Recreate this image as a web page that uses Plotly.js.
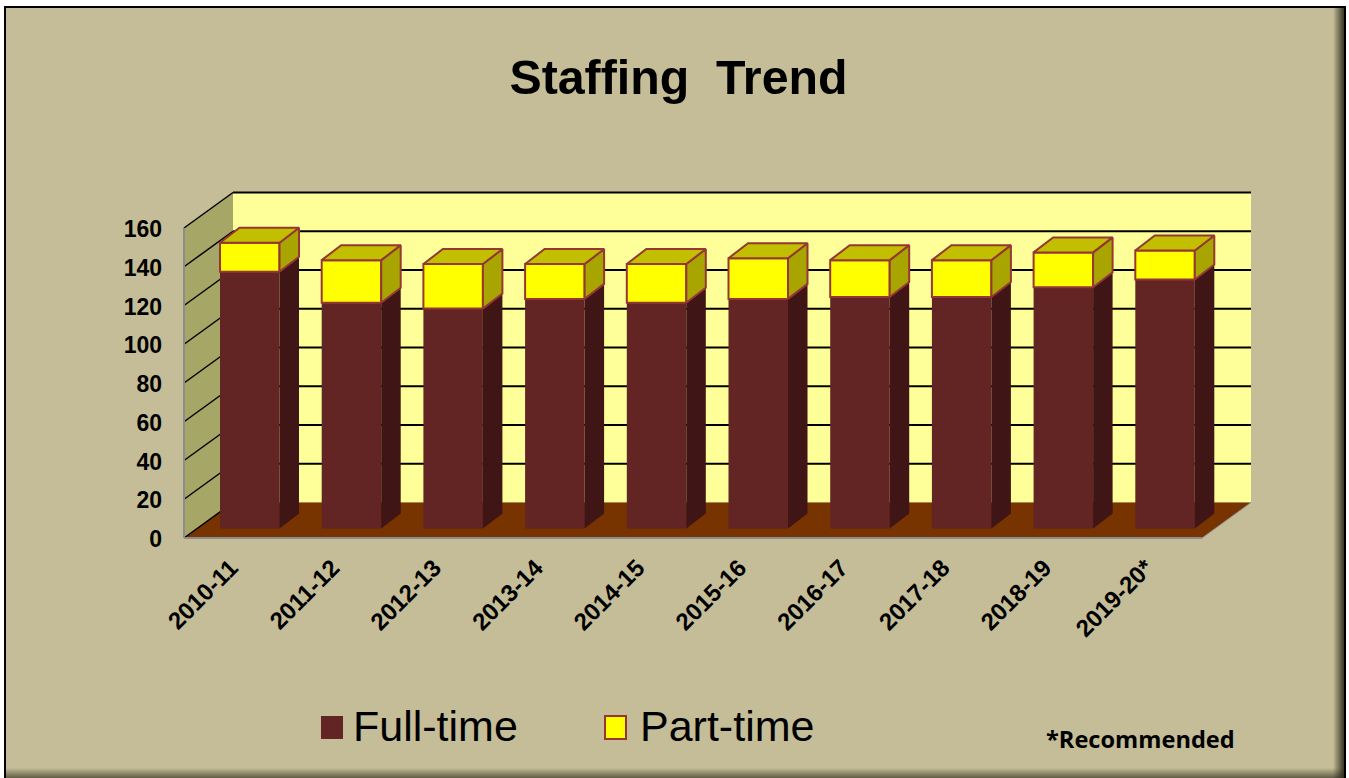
<!DOCTYPE html>
<html>
<head>
<meta charset="utf-8">
<script src="https://cdn.plot.ly/plotly-3.0.1.min.js"></script>
<style>
html,body{margin:0;padding:0;background:#fff;overflow:hidden}
#frame{position:absolute;left:4px;top:6px;width:1342px;height:772px;box-sizing:border-box;
border-left:2px solid #000;border-top:2px solid #000;border-right:2px solid #000;
background:
 linear-gradient(to right,rgba(40,40,25,0) 0,rgba(40,40,25,0) calc(100% - 11px),rgba(40,40,25,.9) 100%),
 linear-gradient(to bottom,rgba(60,60,40,0) 0,rgba(60,60,40,0) calc(100% - 10px),rgba(60,60,40,.75) 100%),
 #C4BD97}
#chart{position:absolute;left:0;top:0;width:1349px;height:778px}
</style>
</head>
<body>
<div id="frame"></div>
<div id="chart"></div>
<script>
const categories = ['2010-11','2011-12','2012-13','2013-14','2014-15','2015-16','2016-17','2017-18','2018-19','2019-20*'];
const fullTime = [132.5,116.5,113.5,118.5,116.5,118.5,119.5,119.5,124.5,128.5];
const partTime = [15,22,23,18,20,21,19,19,18,15];
const yTicks = [0,20,40,60,80,100,120,140,160];
const seriesNames = ['Full-time','Part-time'];

// scale of the drawing
const PX_X = 101.7, PX_Y = 1.9375, PAD = 5;
const L = 184, R = 1251, T = 192, B = 538;
const WALL_DX = 49/PX_X, WALL_DY = 35.5/PX_Y;      // floor / wall depth
const BAR_SX = 14.9/PX_X, BAR_SY = 9.5/PX_Y;       // bar inset from the front plane
const BAR_DX = 19.5/PX_X, BAR_DY = 15/PX_Y;        // bar depth
const BAR_W = 59.5/PX_X;
const LABEL_SHIFT = 4/PX_X, Y_LABEL_NUDGE = 1/PX_Y;
const xMin = -0.5, xFrontMax = 9.5, yMaxTick = 160;
const xBackMax = xMin + (R-L)/PX_X;

const C = {bg:'#C4BD97', back:'#FFFF99', wall:'#A6A666', floor:'#773300', grid:'#000',
  axis:'#8C8C8C', ft:'#632523', ftSide:'#3F1515', pt:'#FFFF00', ptSide:'#A8A500', ptTop:'#C2BE00', edge:'#953735'};

const xi = categories.map((_,i)=>i);
const face = fn => { const xs=[],ys=[]; xi.forEach(i=>{ fn(i).forEach(p=>{xs.push(p[0]);ys.push(p[1]);}); xs.push(null);ys.push(null);}); return {x:xs,y:ys}; };
const xl = i => i + BAR_SX - BAR_W/2, xr = i => i + BAR_SX + BAR_W/2;
const sideFull = face(i=>{const a=BAR_SY,b=BAR_SY+fullTime[i];return [[xr(i),a],[xr(i)+BAR_DX,a+BAR_DY],[xr(i)+BAR_DX,b+BAR_DY],[xr(i),b],[xr(i),a]];});
const sidePart = face(i=>{const a=BAR_SY+fullTime[i],b=a+partTime[i];return [[xr(i),a],[xr(i)+BAR_DX,a+BAR_DY],[xr(i)+BAR_DX,b+BAR_DY],[xr(i),b],[xr(i),a]];});
const topPart = face(i=>{const b=BAR_SY+fullTime[i]+partTime[i];return [[xl(i),b],[xr(i),b],[xr(i)+BAR_DX,b+BAR_DY],[xl(i)+BAR_DX,b+BAR_DY],[xl(i),b]];});

const traces = [
 {type:'bar',name:seriesNames[0],x:xi,y:fullTime,base:fullTime.map(()=>BAR_SY),width:BAR_W,offset:BAR_SX-BAR_W/2,
  marker:{color:C.ft,line:{color:C.ft,width:0}},showlegend:false,hoverinfo:'skip'},
 {type:'bar',name:seriesNames[1],x:xi,y:partTime,base:fullTime.map(v=>v+BAR_SY),width:BAR_W,offset:BAR_SX-BAR_W/2,
  marker:{color:C.pt,line:{color:C.edge,width:2}},showlegend:false,hoverinfo:'skip'},
 {type:'scatter',mode:'lines',x:sideFull.x,y:sideFull.y,fill:'toself',fillcolor:C.ftSide,line:{width:0,color:C.ftSide},showlegend:false,hoverinfo:'skip'},
 {type:'scatter',mode:'lines',x:sidePart.x,y:sidePart.y,fill:'toself',fillcolor:C.ptSide,line:{width:2,color:C.edge},showlegend:false,hoverinfo:'skip'},
 {type:'scatter',mode:'lines',x:topPart.x,y:topPart.y,fill:'toself',fillcolor:C.ptTop,line:{width:2,color:C.edge},showlegend:false,hoverinfo:'skip'}
];

const poly = (pts,fill,line) => ({type:'path',xref:'x',yref:'y',layer:'below',
  path:'M'+pts.map(p=>p[0]+','+p[1]).join(' L')+' Z',fillcolor:fill,line:line||{width:0}});
const seg = (a,b,color,w) => ({type:'line',xref:'x',yref:'y',layer:'below',x0:a[0],y0:a[1],x1:b[0],y1:b[1],line:{color:color,width:w}});

const shapes = [];
shapes.push(poly([[xMin+WALL_DX,WALL_DY],[xBackMax,WALL_DY],[xBackMax,yMaxTick+WALL_DY],[xMin+WALL_DX,yMaxTick+WALL_DY]],C.back));
shapes.push(poly([[xMin,0],[xMin+WALL_DX,WALL_DY],[xMin+WALL_DX,yMaxTick+WALL_DY],[xMin,yMaxTick]],C.wall));
yTicks.slice(1).forEach(t=>shapes.push(seg([xMin+WALL_DX,t+WALL_DY],[xBackMax,t+WALL_DY],C.grid,2)));
shapes.push(poly([[xMin,0],[xBackMax-WALL_DX,0],[xBackMax,WALL_DY],[xMin+WALL_DX,WALL_DY]],C.floor));
yTicks.forEach(t=>shapes.push(seg([xMin,t],[xMin+WALL_DX,t+WALL_DY],C.grid,1.5)));
shapes.push(seg([xMin,0],[xMin,yMaxTick],C.axis,2));
shapes.push(seg([xMin,0],[xBackMax-WALL_DX,0],C.axis,2));
shapes.push(seg([xBackMax-WALL_DX,0],[xBackMax,WALL_DY],C.axis,1));

// legend keys
const W = 1349, H = 778;
const px = x => (x-(L-PAD))/(R+PAD-(L-PAD));
const py = y => ((B+PAD)-y)/((B+PAD)-(T-PAD));
const key = (x0,x1,y0,y1,fill,line) => ({type:'rect',xref:'paper',yref:'paper',layer:'above',
  x0:px(x0),x1:px(x1),y0:py(y0),y1:py(y1),fillcolor:fill,line:line});
shapes.push(key(321,343,716,739,C.ft,{width:0}));
shapes.push(key(605,626,716,739,C.pt,{color:C.edge,width:2}));

const label = (text,x,y,size,family,bold,anchor) => ({text:bold?'<b>'+text+'</b>':text,xref:'paper',yref:'paper',x:px(x),y:py(y),
  xanchor:anchor||'left',yanchor:'middle',showarrow:false,font:{family:family,size:size,color:'#000'}});

const layout = {
  width:W,height:H,autosize:false,
  paper_bgcolor:'rgba(0,0,0,0)',plot_bgcolor:'rgba(0,0,0,0)',
  margin:{l:L-PAD,r:W-R-PAD,t:T-PAD,b:H-B-PAD,pad:0},
  barmode:'overlay',showlegend:false,
  title:{text:'<b>Staffing\u00A0 Trend</b>',x:678.5/W,xanchor:'center',y:1-77/H,yanchor:'middle',
    font:{family:'Liberation Sans',size:48.3,color:'#000'}},
  xaxis:{type:'linear',range:[xMin-PAD/PX_X,xMin+(R+PAD-L)/PX_X],tickmode:'array',tickvals:xi.map(i=>i-LABEL_SHIFT),ticktext:categories,
    tickangle:-45,showgrid:false,zeroline:false,showline:false,ticks:'',ticklabelstandoff:5,
    tickfont:{family:'Liberation Sans',size:24,color:'#000',weight:'bold'}},
  yaxis:{type:'linear',range:[-PAD/PX_Y,(B-T+PAD)/PX_Y],tickmode:'array',tickvals:yTicks.map(t=>t-Y_LABEL_NUDGE),ticktext:yTicks.map(String),
    showgrid:false,zeroline:false,showline:false,ticks:'',ticklabelstandoff:16,
    tickfont:{family:'Liberation Sans',size:23,color:'#000',weight:'bold'}},
  shapes:shapes,
  annotations:[
    label(seriesNames[0],351,726,43,'Liberation Sans',false),
    label(seriesNames[1],638,726,43,'Liberation Sans',false),
    label('*Recommended',1044,739,23.6,'Open Sans',true)
  ]
};
Plotly.newPlot('chart',traces,layout,{displayModeBar:false,staticPlot:true});
</script>
</body>
</html>
